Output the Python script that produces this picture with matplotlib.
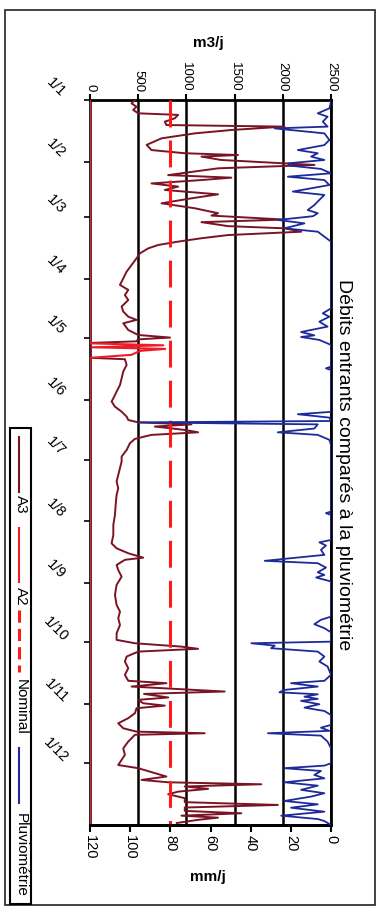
import matplotlib
matplotlib.use('Agg')
import matplotlib.pyplot as plt
import matplotlib.transforms as mtransforms
from matplotlib.lines import Line2D
from matplotlib.patches import Rectangle

plt.rcParams['font.family'] = ['Liberation Sans', 'DejaVu Sans']

W, H = 383, 909

title = 'Débits entrants comparés à la pluviométrie'

# months (day of year) and their labels
month_days = [0, 31, 59, 90, 120, 151, 181, 212, 243, 273, 304, 334]
month_labels = ['1/1', '1/2', '1/3', '1/4', '1/5', '1/6',
                '1/7', '1/8', '1/9', '1/10', '1/11', '1/12']

flow_ticks = [0, 500, 1000, 1500, 2000, 2500]
rain_ticks = [120, 100, 80, 60, 40, 20, 0]

# nominal flow (m3/j)
nominal_day = [0, 365]
nominal_flow = [830, 830]

# A3 inflow, m3/j
a3_day = [0, 1.7, 3.4, 5, 6.7, 7.5, 9.2, 10.9, 12.6, 13.4, 15.1, 16.8, 19.3, 22.6,
          25.2, 26.8, 27.7, 28.5, 30.2, 31.9, 32.7, 34.4, 37.8, 39.1, 40.3, 42,
          43.6, 45.3, 47.5, 49.5, 52, 54.5, 57, 58.2, 60.2, 61.5, 63.5, 64.6,
          66.3, 68, 69.6, 71.3, 73, 74.7, 77.2, 79.7, 83.1, 86.4, 89.8, 93.1,
          95.6, 98.2, 100.7, 104, 106.5, 109.1, 110.7, 112.4, 115.8, 118.3,
          119.6, 120.5, 121.5, 122.3, 129.8, 130.5, 133.4, 136.7, 140.1, 143.5,
          146.8, 150.2, 151.8, 154.4, 156.9, 159.4, 161.1, 162.3, 163.3, 164.4,
          166.1, 167.3, 168.6, 170.6, 172.8, 176.2, 179.5, 182, 185.4, 188.8,
          192.1, 195.5, 198.8, 203.9, 208.9, 213.9, 219, 223.2, 225.7, 228.2,
          230.4, 231.5, 234.1, 236.6, 240, 244.1, 249.2, 254.2, 257.6, 260.9,
          264.3, 268.5, 271.8, 273.5, 275.2, 276.3, 277.7, 280.2, 282.7, 286.1,
          289.4, 292.4, 293.6, 295.3, 297.8, 299, 300.8, 302, 303.7, 304.9,
          306.2, 308.7, 311.2, 313.8, 316.3, 318, 318.8, 319.6, 323, 326.4,
          329.7, 332.2, 334.8, 336.4, 338.9, 340.6, 342.3, 343.5, 344.5, 345.6,
          346.8, 348.2, 349.5, 351.5, 353.5, 354.9, 356.2, 357.9, 359.1, 360.3,
          361.3, 362.4, 364]
a3_flow = [466, 431, 483, 448, 500, 914, 880, 776, 793, 2018, 1466, 1087, 742, 587,
           638, 983, 1535, 1156, 1363, 2018, 2329, 1328, 811, 1466, 1156, 638,
           914, 776, 1328, 1052, 742, 1087, 1328, 1260, 2018, 1156, 1432, 2018,
           2191, 1432, 1156, 914, 707, 604, 518, 483, 431, 380, 345, 311,
           397, 362, 397, 328, 345, 397, 483, 345, 397, 500,
           830, 500, 480, 0, 0, 362, 380, 345, 328, 311,
           276, 242, 224, 259, 328, 380, 397, 500, 1052, 673,
           983, 1121, 638, 466, 414, 380, 328, 328, 311, 293,
           276, 293, 276, 266, 259, 242, 242, 224, 276, 397,
           552, 362, 276, 293, 328, 276, 259, 276, 311, 293,
           311, 276, 276, 466, 949, 1121, 500, 380, 362, 397,
           362, 397, 793, 431, 1397, 560, 811, 500, 552, 776,
           483, 466, 397, 293, 345, 483, 1190, 466, 397, 345,
           362, 328, 293, 500, 673, 793, 535, 811, 1777, 983,
           1225, 914, 811, 983, 983, 1949, 983, 983, 1570, 949,
           1328, 1121, 900]

# A2 inflow, m3/j
a2_day = [0, 122.5, 123.5, 124.5, 125.3, 126.3, 128.3, 129.8, 365]
a2_flow = [0, 0, 760, 20, 780, 520, 430, 0, 0]

# rainfall, mm/j
rain_day = [0, 0.8, 4.2, 6.7, 8.4, 10.9, 13.4, 14.3, 15.6, 16.8, 20.1, 22.7, 25.2,
            26.8, 28.5, 30.2, 31.9, 33.1, 34.7, 36.9, 38.6, 40.3, 42.8, 46.1,
            47.8, 50.3, 52.9, 55.4, 57, 58.5, 60.4, 62.1, 64.6, 66.3, 68.8, 71.3,
            104.9, 107.4, 109.1, 111.6, 114.1, 116.8, 118.5, 119.3, 120.8, 123.3,
            134.2, 135.1, 135.9, 157, 158.2, 159.9, 161.6, 162.3, 163.3, 165.4,
            167.3, 168.6, 171.1, 173.7, 207.2, 208, 208.9, 221.5, 222.7, 224.3,
            226.5, 229, 232, 233.2, 235.4, 237.8, 239.1, 240.4, 242.4, 260.1,
            261.7, 263.9, 265.9, 268, 272.7, 273.5, 274.7, 276, 277.7, 280.2,
            282.7, 285.2, 289.4, 292.4, 293.6, 295.3, 297, 298.2, 299.2, 300.4,
            301.5, 302.5, 304.2, 305.9, 307.6, 309.6, 314.6, 316, 317.6, 318.8,
            320, 323, 326.3, 333.9, 335.1, 336.4, 337.8, 339.8, 341.5, 343.5,
            345.2, 347.3, 349, 350.7, 352.9, 354.6, 356.3, 358.3, 360.3, 362,
            363, 365]
rain_mm = [0, 0, 0.8, 6.6, 1.7, 4.1, 1.7, 28, 14.9, 3.3, 0.8, 3.3, 16.5,
           6.6, 9.9, 3.3, 21.5, 19.9, 5, 0, 21.5, 3.3, 0.8, 19,
           3.3, 5.8, 8.3, 11.6, 6.6, 9, 26.5, 13.2, 23.2, 6.6, 3.3, 0,
           0, 4.1, 0.8, 5.8, 1.7, 14.9, 8.3, 14.9, 5.8, 0,
           0, 2.5, 0, 0, 16.5, 0.8, 0, 96, 6.6, 8.3,
           26.5, 6.6, 0.8, 0, 0, 2.5, 0, 0, 5.8, 2.5,
           5, 3.3, 33, 6.6, 2.5, 6.6, 3.3, 7.4, 0, 0,
           5, 8.3, 3.3, 0, 0, 39.7, 28, 29.8, 6.6, 3.3,
           5.8, 1.7, 0, 3.3, 19.9, 6.6, 23.2, 25.7, 6.6, 13.2,
           6.6, 14.9, 5.8, 13.2, 3.3, 0, 0, 5, 0.8, 31.4,
           5, 1.7, 0, 0, 3.3, 23.2, 5, 8.3, 3.3, 23.2,
           6.6, 14.9, 3.3, 9.9, 23.2, 6.6, 19.9, 3.3, 24.8, 6.6,
           3.3, 0]

c_a3 = '#7a1424'
c_a2 = '#ee1c24'
c_rain = '#1c2a9a'


def px(x, y):
    # pixel position (from top-left) -> figure fraction
    return x / W, 1 - y / H


fig = plt.figure(figsize=(W / 100, H / 100), dpi=100)
fig.patch.set_facecolor('white')

x0, y0 = px(90, 825)
x1, y1 = px(331, 100)
ax = fig.add_axes([x0, y0, x1 - x0, y1 - y0])
ax2 = ax.twiny()

ax.set_xlim(0, 2500)
ax.set_ylim(365, 0)

ax.xaxis.set_ticks_position('top')
ax.xaxis.set_label_position('top')
ax.set_xticks(flow_ticks)
ax.set_xticklabels([str(t) for t in flow_ticks], rotation=-90, fontsize=9.5)
ax.tick_params(axis='x', direction='out', length=4, width=1.5, pad=2)
ax.grid(axis='x', color='black', lw=1.8)
ax.set_axisbelow(True)

ax.set_yticks(month_days)
ax.set_yticklabels([])
ax.tick_params(axis='y', direction='out', length=4, width=1.2)

for side in ['top', 'right', 'bottom']:
    ax.spines[side].set_linewidth(2)
ax.spines['left'].set_linewidth(1.2)

trans = mtransforms.blended_transform_factory(ax.transAxes, ax.transData)
for d, lab in zip(month_days, month_labels):
    ax.text(-0.141, d - 6.5, lab, transform=trans, rotation=-45,
            ha='center', va='center', fontsize=10.5)

ax.plot(a3_flow, a3_day, color=c_a3, lw=1.4, zorder=3)
ax.plot(a2_flow, a2_day, color=c_a2, lw=1.5, zorder=3)
ax.plot(nominal_flow, nominal_day, color='#ff1a1a', lw=2.2,
        ls=(0, (8.8, 4.3)), zorder=4)

ax2.set_xlim(120, 0)
ax2.xaxis.set_ticks_position('bottom')
ax2.xaxis.set_label_position('bottom')
ax2.set_xticks(rain_ticks)
ax2.set_xticklabels([str(t) for t in rain_ticks], rotation=-90, fontsize=10.5)
ax2.tick_params(axis='x', direction='out', length=5, width=1.5, pad=2)
for side in ['top', 'right', 'left']:
    ax2.spines[side].set_visible(False)
ax2.spines['bottom'].set_linewidth(2)
ax2.plot(rain_mm, rain_day, color=c_rain, lw=1.3, zorder=3)

fig.text(*px(208, 43), 'm3/j', ha='center', va='center', fontsize=11,
         fontweight='bold')
fig.text(*px(208, 877), 'mm/j', ha='center', va='center', fontsize=11,
         fontweight='bold')
fig.text(*px(343, 465), title, rotation=-90, ha='center', va='center',
         fontsize=14)

# outer frame
fx0, fy0 = px(5, 905)
fx1, fy1 = px(375, 10)
fig.add_artist(Rectangle((fx0, fy0), fx1 - fx0, fy1 - fy0, transform=fig.transFigure,
                         fill=False, edgecolor='#222222', lw=1.2))

# legend, drawn turned like the rest of the chart
lx0, ly0 = px(10, 904)
lx1, ly1 = px(31, 428)
fig.add_artist(Rectangle((lx0, ly0), lx1 - lx0, ly1 - ly0, transform=fig.transFigure,
                         fill=False, edgecolor='black', lw=1.5))
entries = [('A3', c_a3, '-', 437, 492, 504),
           ('A2', c_a2, '-', 528, 582, 596),
           ('Nominal', '#ff1a1a', (0, (4, 2)), 610, 672, 707),
           ('Pluviométrie', c_rain, '-', 748, 803, 855)]
for name, col, ls, ya, yb, yt in entries:
    xa, ya_f = px(19, ya)
    _, yb_f = px(19, yb)
    lw = 2.2 if name == 'Nominal' else 1.5
    fig.add_artist(Line2D([xa, xa], [ya_f, yb_f], transform=fig.transFigure,
                          color=col, lw=lw, ls=ls))
    fig.text(*px(21, yt), name, rotation=-90, ha='center', va='center',
             fontsize=11)

fig.savefig('out.png', dpi=100)
